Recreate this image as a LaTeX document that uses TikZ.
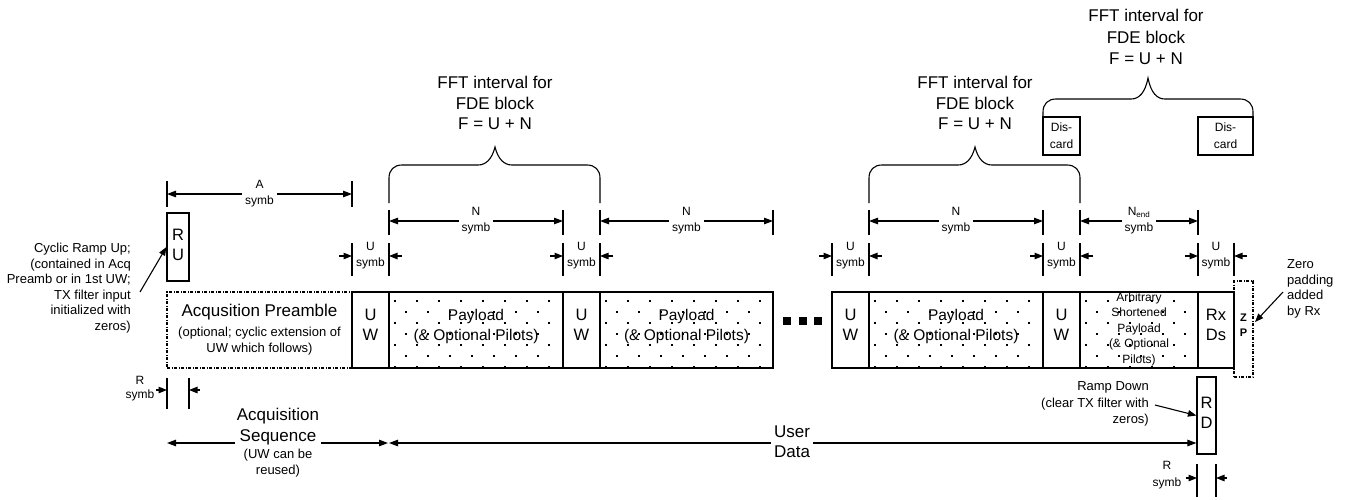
\documentclass[tikz,border=0pt]{standalone}
\usepackage{fontspec}
\setmainfont{Liberation Sans}
\usetikzlibrary{arrows.meta}
\newcommand\fbig{\fontsize{16.5}{20}\selectfont}
\newcommand\fmid{\fontsize{13}{16}\selectfont}
\newcommand\fsml{\fontsize{12}{16}\selectfont}
\newcommand\farb{\fontsize{12}{15.5}\selectfont}
\tikzset{
  blk/.style={draw, line width=1.2pt, inner sep=0pt},
  dashblk/.style={draw, line width=1.1pt, inner sep=0pt, dash pattern=on 3pt off 1.5pt on 1pt off 1.5pt},
  btxt/.style={font=\fbig, align=center, inner sep=0pt},
  tck/.style={line width=1.7pt},
  dimarr/.style={line width=1.1pt, {Triangle[length=9pt,width=6.5pt]}-{Triangle[length=9pt,width=6.5pt]}},
  arr/.style={line width=1.1pt, -{Triangle[length=8.5pt,width=6.5pt]}},
  dlbl/.style={font=\fsml, align=center, fill=white, inner xsep=3pt, inner ysep=0pt},
  note/.style={font=\fmid, inner sep=0pt},
  brc/.style={line width=1.1pt},
  ffttxt/.style={font=\fontsize{17}{20.5}\selectfont, align=center, inner sep=0pt}
}
\newcommand\indim[7]{%
  \draw[tck] (#1,#3) -- (#1,#4);
  \draw[tck] (#2,#3) -- (#2,#4);
  \coordinate (#6-l) at (#1,#5);
  \coordinate (#6-r) at (#2,#5);
  \draw[dimarr] (#6-l) -- node[dlbl] (#6-t) {#7} (#6-r);
}
\newcommand\outdim[4]{%
  \draw[tck] (#1,243) -- (#1,276);
  \draw[tck] (#2,243) -- (#2,276);
  \coordinate (#3-a) at (#1-13,256);
  \coordinate (#3-b) at (#1,256);
  \coordinate (#3-c) at (#2+13,256);
  \coordinate (#3-d) at (#2,256);
  \draw[arr] (#3-a) -- (#3-b);
  \draw[arr] (#3-c) -- (#3-d);
  \node[dlbl, fill=none] (#3-t) at ({(#1+#2)/2},256) {#4};
}
\newcommand\fbrace[6]{%
  \draw[brc] (#1,#3) -- (#1,#4+13) .. controls (#1,#4+5) and (#1+5,#4) .. (#1+13,#4)
    -- (#6-17,#4) .. controls (#6-9,#4) and (#6-3,#4-6) .. (#6,#5)
    .. controls (#6+3,#4-6) and (#6+9,#4) .. (#6+17,#4)
    -- (#2-13,#4) .. controls (#2-5,#4) and (#2,#4+5) .. (#2,#4+13) -- (#2,#3);
}
\newcommand\dotgrid[2]{%
  \foreach \r in {0,...,6}{%
    \foreach \c in {0,...,8}{%
      \pgfmathsetmacro\dx{#1+6+mod(\r,2)*11+22*\c}%
      \pgfmathsetmacro\dy{301+11*\r}%
      \ifdim\dx pt<\dimexpr #2pt-3pt\relax
        \fill (\dx-1.4,\dy-1.4) rectangle (\dx+1.4,\dy+1.4);
      \fi
    }%
  }%
}
\begin{document}
\begin{tikzpicture}[x=1pt,y=-1pt]
\path[fill=white, use as bounding box] (0,0) rectangle (1346,499);

% dot patterns
\dotgrid{389}{563}
\dotgrid{600}{773}
\dotgrid{869}{1043}
\dotgrid{1080}{1198}

% main row
\node[dashblk, minimum width=185, minimum height=76,
  label={[font=\fmid, align=center]center:\fontsize{17}{20}\selectfont Acqusition Preamble\\[4pt](optional; cyclic extension of\\UW which follows)}] (acq) at (259.5,330) {};
\node[blk, minimum width=37, minimum height=76, label={[btxt,yshift=5pt]center:U\\W}] (uw1) at (370.5,330) {};
\node[blk, minimum width=174, minimum height=76, label={[font=\fontsize{15.5}{20}\selectfont, align=center, yshift=4pt]center:Payload\\(\& Optional Pilots)}] (pl1) at (476,330) {};
\node[blk, minimum width=37, minimum height=76, label={[btxt,yshift=5pt]center:U\\W}] (uw2) at (581.5,330) {};
\node[blk, minimum width=173, minimum height=76, label={[font=\fontsize{15.5}{20}\selectfont, align=center, yshift=4pt]center:Payload\\(\& Optional Pilots)}] (pl2) at (686.5,330) {};
\node[blk, minimum width=37, minimum height=76, label={[btxt,yshift=5pt]center:U\\W}] (uw3) at (850.5,330) {};
\node[blk, minimum width=174, minimum height=76, label={[font=\fontsize{15.5}{20}\selectfont, align=center, yshift=4pt]center:Payload\\(\& Optional Pilots)}] (pl3) at (956,330) {};
\node[blk, minimum width=37, minimum height=76, label={[btxt,yshift=5pt]center:U\\W}] (uw4) at (1061.5,330) {};
\node[blk, minimum width=118, minimum height=76, label={[font=\farb, align=center, yshift=1pt]center:Arbitrary\\Shortened\\Payload\\(\& Optional\\Pilots)}] (arb) at (1139,330) {};
\node[dashblk, minimum width=19, minimum height=96, label={[font=\fontsize{11}{15}\selectfont\bfseries, align=center, yshift=4pt]center:Z\\P}] (zp) at (1243.5,329) {};
\node[blk, minimum width=36, minimum height=76, label={[btxt,yshift=5pt]center:Rx\\Ds}] (rxds) at (1216,330) {};

% ellipsis squares
\fill (783,317) rectangle (791,325);
\fill (799,317) rectangle (807,325);
\fill (814,317) rectangle (822,325);

% ramp boxes
\node[blk, minimum width=22, minimum height=68, label={[btxt,yshift=2pt]center:R\\U}] (ru) at (178,247) {};
\node[blk, minimum width=19, minimum height=77, label={[btxt,yshift=3pt]center:R\\D}] (rd) at (1206.5,415.5) {};

% discard boxes
\node[blk, minimum width=37, minimum height=38, font=\fontsize{12}{17}\selectfont, align=center] (dis1) at (1061.5,136) {Dis-\\card};
\node[blk, minimum width=55, minimum height=38, font=\fontsize{12}{17}\selectfont, align=center] (dis2) at (1225.5,136) {Dis-\\card};

% dimensions
\indim{167}{352}{181}{207}{194}{dA}{A\\symb}
\indim{389}{563}{210}{235}{221}{dNa}{N\\symb}
\indim{600}{773}{210}{235}{221}{dNb}{N\\symb}
\indim{869}{1043}{210}{235}{221}{dNc}{N\\symb}
\indim{1080}{1198}{210}{235}{221}{dNe}{N\textsubscript{end}\\symb}
\outdim{352}{389}{dUa}{U\\symb}
\outdim{563}{600}{dUb}{U\\symb}
\outdim{832}{869}{dUc}{U\\symb}
\outdim{1043}{1080}{dUd}{U\\symb}
\outdim{1198}{1234}{dUe}{U\\symb}

% R symb (left)
\draw[tck] (167,378) -- (167,409);
\draw[tck] (189,378) -- (189,409);
\coordinate (rl-a) at (156,390); \coordinate (rl-b) at (167,390);
\coordinate (rl-c) at (200,390); \coordinate (rl-d) at (189,390);
\draw[arr] (rl-a) -- (rl-b);
\draw[arr] (rl-c) -- (rl-d);
\node[dlbl, fill=none, font=\fontsize{12}{14}\selectfont] (rl-t) at (140,389) {R\\symb};

% R symb (right)
\draw[tck] (1197,464) -- (1197,497);
\draw[tck] (1216,464) -- (1216,497);
\coordinate (rr-a) at (1186,478); \coordinate (rr-b) at (1197,478);
\coordinate (rr-c) at (1227,478); \coordinate (rr-d) at (1216,478);
\draw[arr] (rr-a) -- (rr-b);
\draw[arr] (rr-c) -- (rr-d);
\node[dlbl, fill=none, font=\fontsize{12}{17}\selectfont] (rr-t) at (1167,475) {R\\symb};

% braces and FFT labels
\fbrace{389}{600}{203}{165}{147}{495}
\fbrace{869}{1080}{203}{165}{147}{975}
\fbrace{1043}{1253}{117}{99}{78}{1148}
\node[ffttxt] (fft1) at (495,103) {FFT interval for\\FDE block\\F = U + N};
\node[ffttxt] (fft2) at (975,103) {FFT interval for\\FDE block\\F = U + N};
\node[ffttxt, font=\fontsize{17}{21.5}\selectfont] (fft3) at (1146,37) {FFT interval for\\FDE block\\F = U + N};

% notes
\node[note, font=\fontsize{13}{15.5}\selectfont, align=right, anchor=east] (cru) at (131,288) {Cyclic Ramp Up;\\(contained in Acq\\Preamb or in 1st UW;\\TX filter input\\initialized with\\zeros)};
\coordinate (cru-tail) at (140,292);
\draw[arr] (cru-tail) -- (ru.west);

\node[note, font=\fontsize{13}{16.5}\selectfont, align=right, anchor=east] (rdn) at (1149,404) {Ramp Down\\(clear TX filter with\\zeros)};
\coordinate (rdn-tail) at (1155,405);
\draw[arr] (rdn-tail) -- (rd.west);

\node[note, font=\fontsize{13}{15.5}\selectfont, align=left, anchor=west] (zpn) at (1287,289) {Zero\\padding\\added\\by Rx};
\coordinate (zpn-tail) at (1283,292);
\coordinate (zp-tip) at (1255,322);
\draw[arr] (zpn-tail) -- (zp-tip);

% sequence arrows
\coordinate (aq-l) at (167,443);
\coordinate (aq-r) at (388,443);
\coordinate (ud-l) at (389,443);
\coordinate (ud-r) at (rd.west |- 0,443);
\draw[dimarr] (aq-l) -- (aq-r);
\draw[dimarr] (ud-l) -- (ud-r);
\node[note, fill=white, inner xsep=2pt, align=center, font=\fontsize{13}{16}\selectfont] (aqs) at (278,443) {\fontsize{17}{20}\selectfont Acquisition\\[5pt]\fontsize{17}{20}\selectfont Sequence\\[1pt](UW can be\\reused)};
\node[note, fill=white, inner xsep=3pt, align=center, font=\fontsize{17}{20}\selectfont] (ud) at (792,442) {User\\Data};
\end{tikzpicture}
\end{document}
